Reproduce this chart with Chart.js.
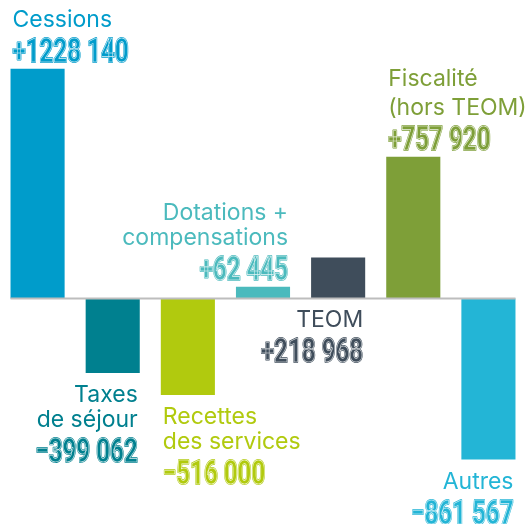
<!DOCTYPE html>
<html>
<head>
<meta charset="utf-8">
<script src="https://cdn.jsdelivr.net/npm/chart.js@4.4.1/dist/chart.umd.min.js"></script>
<style>
  html, body { margin: 0; padding: 0; background: #fff; }
  canvas { display: block; }
</style>
</head>
<body>
<canvas id="chart" width="526" height="524"></canvas>
<script>
// categories and values (variation, in euros)
const categories = ['Cessions', 'Taxes de séjour', 'Recettes des services', 'Dotations + compensations', 'TEOM', 'Fiscalité (hors TEOM)', 'Autres'];
const values = [1228140, -399062, -516000, 62445, 218968, 757920, -861567];
const valueTexts = ['+1228 140', '−399 062', '−516 000', '+62 445', '+218 968', '+757 920', '−861 567'];
const labelLines = [['Cessions'], ['Taxes', 'de séjour'], ['Recettes', 'des services'], ['Dotations +', 'compensations'], ['TEOM'], ['Fiscalité', '(hors TEOM)'], ['Autres']];
const barColors = ['#009CCB', '#00808F', '#B1CA0E', '#4BBABD', '#3F4D5B', '#7E9F38', '#23B5D6'];

// label placement: which side of the bar and which edge the text hugs
const labelSide = ['top', 'bottom', 'bottom', 'top', 'bottom', 'top', 'bottom'];
const labelAlign = ['left', 'right', 'left', 'right', 'right', 'left', 'right'];
const lineGaps = [25, 25, 25, 25, 25, 29, 25];

const LABEL_FONT = '23px Inter';
const NUM_FONT = 'bold 34px Roboto';
const NUM_SCALE_X = 0.71;

function drawNumber(ctx, text, x, y, align, color) {
  ctx.save();
  ctx.font = NUM_FONT;
  const w = ctx.measureText(text).width * NUM_SCALE_X;
  const left = align === 'left' ? x : x - w;
  ctx.translate(left, y);
  ctx.scale(NUM_SCALE_X, 1);
  ctx.textAlign = 'left';
  ctx.textBaseline = 'alphabetic';
  ctx.lineJoin = 'round';
  // outline + fill, then a thin white inline
  ctx.strokeStyle = color; ctx.lineWidth = 2; ctx.strokeText(text, 0, 0);
  ctx.fillStyle = color; ctx.fillText(text, 0, 0);
  ctx.strokeStyle = 'rgba(255,255,255,0.85)'; ctx.lineWidth = 0.7; ctx.strokeText(text, 0, 0);
  ctx.restore();
}

const barLabels = {
  id: 'barLabels',
  afterDatasetsDraw(chart) {
    const ctx = chart.ctx;
    const meta = chart.getDatasetMeta(0);
    const zeroY = chart.scales.y.getPixelForValue(0);
    const first = meta.data[0], last = meta.data[meta.data.length - 1];

    ctx.save();
    // zero line
    ctx.strokeStyle = '#BDBDBD';
    ctx.lineWidth = 2;
    ctx.beginPath();
    ctx.moveTo(first.x - first.width / 2, zeroY);
    ctx.lineTo(last.x + last.width / 2, zeroY);
    ctx.stroke();

    meta.data.forEach((bar, i) => {
      const align = labelAlign[i];
      const x = align === 'left' ? bar.x - bar.width / 2 + 2 : bar.x + bar.width / 2 - 2;
      const lines = labelLines[i];
      const gap = lineGaps[i];
      let firstBase, numBase;
      if (labelSide[i] === 'top') {
        numBase = Math.min(bar.y, zeroY) - 7;
        firstBase = numBase - 35 - (lines.length - 1) * gap;
      } else {
        firstBase = Math.max(bar.y, zeroY) + 29;
        numBase = firstBase + (lines.length - 1) * gap + 35;
      }
      ctx.font = LABEL_FONT;
      ctx.fillStyle = barColors[i];
      ctx.textAlign = align;
      ctx.textBaseline = 'alphabetic';
      lines.forEach((t, k) => ctx.fillText(t, x, firstBase + k * gap));
      drawNumber(ctx, valueTexts[i], x, numBase, align, barColors[i]);
    });
    ctx.restore();
  }
};

new Chart(document.getElementById('chart'), {
  type: 'bar',
  data: {
    labels: categories,
    datasets: [{
      data: values,
      backgroundColor: barColors,
      borderWidth: 0,
      barPercentage: 0.72,
      categoryPercentage: 1
    }]
  },
  options: {
    responsive: false,
    animation: false,
    layout: { padding: 0 },
    plugins: { legend: { display: false }, tooltip: { enabled: false } },
    scales: {
      x: { display: false },
      y: { display: false, min: -1206000, max: 1596000 }
    }
  },
  plugins: [barLabels]
});
</script>
</body>
</html>
